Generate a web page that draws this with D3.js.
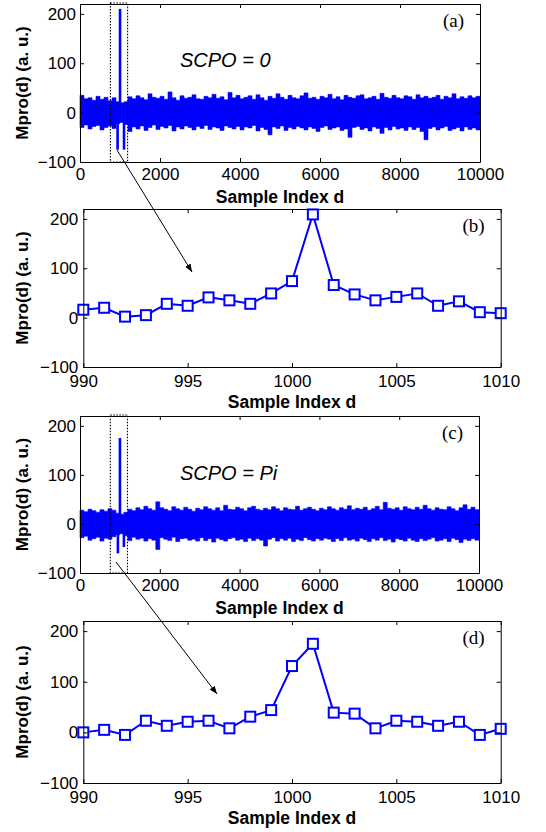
<!DOCTYPE html>
<html><head><meta charset="utf-8">
<script src="https://cdn.jsdelivr.net/npm/d3@7"></script>
<style>body{margin:0;background:#fff}svg{display:block}</style>
</head><body>
<script>
// ---------- data ----------
const yTickVals = [-100, 0, 100, 200];
const longTicks = [0, 2000, 4000, 6000, 8000, 10000];
const zoomTicks = [990, 995, 1000, 1005, 1010];
const zoomIndex = [990,991,992,993,994,995,996,997,998,999,1000,1001,1002,1003,1004,1005,1006,1007,1008,1009,1010];
const mproB = [16,20,2,5,28,24,41,35,28,49,74,209,66,47,35,42,49,24,33,11,9];
const mproD = [0,5,-5,23,13,21,23,8,31,44,131,175,39,37,8,23,21,13,21,-5,7];

// per-100-sample envelope of the full traces (max / min)
const noiseMaxA = [35,28,30,25,33,27,31,24,30,22, 20,22,32,28,34,30,26,38,31,29,
                   33,27,42,30,25,34,29,31,36,28, 27,33,30,37,29,32,26,41,30,35,
                   28,31,34,27,36,30,25,33,29,38, 31,27,35,30,28,34,40,29,31,27,
                   33,30,37,28,32,26,35,31,29,34, 36,28,30,33,27,39,31,29,35,30,
                   28,34,32,27,36,30,33,29,31,35, 27,33,30,38,28,32,29,34,30,33];
const noiseMinA = [-30,-25,-33,-28,-26,-35,-30,-27,-32,-22, -20,-24,-38,-29,-33,-27,-36,-30,-25,-34,
                   -28,-31,-26,-37,-29,-33,-27,-30,-35,-28, -32,-26,-34,-29,-31,-36,-27,-30,-33,-28,
                   -35,-29,-31,-26,-37,-30,-34,-45,-29,-32, -27,-36,-30,-33,-28,-31,-35,-29,-32,-38,
                   -30,-27,-34,-31,-29,-36,-33,-50,-30,-28, -34,-31,-37,-29,-32,-42,-30,-35,-28,-33,
                   -31,-36,-29,-34,-30,-38,-55,-32,-29,-35, -31,-28,-36,-33,-30,-37,-29,-34,-31,-35];
const spikeIdxA = [940, 1001, 1100];
const spikeValA = [-75, 210, -75];

const noiseMaxC = [28,25,30,27,24,29,26,31,28,22, 20,24,30,27,33,29,36,31,28,45,
                   33,30,27,35,31,28,34,30,26,32, 29,35,31,28,33,27,38,30,29,34,
                   31,27,33,36,30,28,32,29,35,31, 27,33,30,29,36,28,31,34,30,27,
                   32,29,35,31,28,33,30,37,29,32, 30,34,28,31,36,29,44,32,30,33,
                   28,35,31,29,34,30,38,31,28,33, 30,29,35,31,27,33,39,30,34,29];
const noiseMinC = [-28,-25,-33,-30,-27,-35,-29,-31,-26,-22, -20,-24,-34,-27,-31,-29,-35,-30,-33,-52,
                   -28,-31,-34,-27,-36,-30,-29,-33,-31,-35, -28,-34,-30,-37,-29,-32,-35,-30,-28,-33,
                   -31,-36,-29,-34,-30,-33,-45,-31,-28,-35, -30,-33,-29,-36,-31,-34,-28,-32,-35,-30,
                   -33,-29,-31,-36,-30,-34,-28,-33,-31,-35, -29,-32,-36,-30,-33,-28,-34,-31,-37,-30,
                   -32,-35,-29,-33,-36,-30,-34,-31,-28,-35, -33,-30,-36,-29,-32,-38,-31,-34,-30,-33];
const spikeIdxC = [950, 1001, 1100];
const spikeValC = [-60, 175, -47];

const zoomBox = [760, 1190];
const panelTags = ["(a)", "(b)", "(c)", "(d)"];
const scpoLabels = ["SCPO = 0", "SCPO = Pi"];
const binSize = 100;

// ---------- drawing ----------
const W = 546, H = 832, BLUE = "#0000ff";
const SANS = "'Liberation Sans', Arial, Helvetica, sans-serif";
const SERIF = "'Liberation Serif', 'Times New Roman', serif";
const svg = d3.select("body").append("svg").attr("width", W).attr("height", H);

const panels = [
  {l:80,  r:480,   t:4,   b:162, xd:[0,10000], xt:longTicks, pad:4, xpad:6},
  {l:83.3,r:500.7, t:209, b:367, xd:[990,1010], xt:zoomTicks, pad:5, xpad:8},
  {l:80,  r:479,   t:416, b:573, xd:[0,10000], xt:longTicks, pad:4, xpad:6},
  {l:83.3,r:500.7, t:621, b:783, xd:[990,1010], xt:zoomTicks, pad:5, xpad:8}
];

function drawAxes(p, x, y, i) {
  const g = svg.append("g").attr("font-family", SANS);
  const bottom = d3.axisBottom(x).tickValues(p.xt).tickSizeInner(-4).tickSizeOuter(0).tickPadding(p.xpad).tickFormat(d3.format("d"));
  const top = d3.axisTop(x).tickValues(p.xt).tickSizeInner(-4).tickSizeOuter(0).tickFormat("");
  const left = d3.axisLeft(y).tickValues(yTickVals).tickSizeInner(-4).tickSizeOuter(0).tickPadding(p.pad).tickFormat(d3.format("d"));
  const right = d3.axisRight(y).tickValues(yTickVals).tickSizeInner(-4).tickSizeOuter(0).tickFormat("");
  [[bottom, `translate(0,${p.b})`], [top, `translate(0,${p.t})`],
   [left, `translate(${p.l},0)`], [right, `translate(${p.r},0)`]].forEach(([ax, tr]) => {
    const a = g.append("g").attr("transform", tr).call(ax);
    a.selectAll("path").attr("stroke", "#000").attr("stroke-width", 1);
    a.selectAll("line").attr("stroke", "#000").attr("stroke-width", 1);
    a.selectAll("text").attr("font-size", 17).attr("fill", "#000").attr("font-family", SANS);
  });
  g.append("text").attr("x", (p.l + p.r) / 2).attr("y", p.b + 41)
    .attr("text-anchor", "middle").attr("font-size", 17.5).attr("font-weight", "bold")
    .text("Sample Index d");
  g.append("text").attr("transform", `translate(22,${(p.t + p.b) / 2}) rotate(-90)`)
    .attr("text-anchor", "middle").attr("dominant-baseline", "central")
    .attr("font-size", 17).attr("font-weight", "bold").text("Mpro(d) (a. u.)");
  svg.append("text").attr("x", p.r - 16).attr("y", p.t + 23).attr("text-anchor", "end")
    .attr("font-family", SERIF).attr("font-size", 19).text(panelTags[i]);
}

panels.forEach((p, i) => {
  const x = d3.scaleLinear().domain(p.xd).range([p.l, p.r]);
  const y = d3.scaleLinear().domain([-100, 220]).range([p.b, p.t]);
  if (i === 0 || i === 2) {
    const maxs = i === 0 ? noiseMaxA : noiseMaxC;
    const mins = i === 0 ? noiseMinA : noiseMinC;
    const sIdx = i === 0 ? spikeIdxA : spikeIdxC;
    const sVal = i === 0 ? spikeValA : spikeValC;
    const bins = maxs.map((v, k) => ({d: k * binSize, hi: v, lo: mins[k]}));
    bins.push({d: maxs.length * binSize, hi: maxs[maxs.length - 1], lo: mins[mins.length - 1]});
    const area = d3.area().curve(d3.curveStepAfter)
      .x(b => x(b.d)).y0(b => y(b.lo)).y1(b => y(b.hi));
    svg.append("path").datum(bins).attr("d", area).attr("fill", BLUE)
      .attr("stroke", BLUE).attr("stroke-width", 0.6);
    svg.append("g").selectAll("line").data(sIdx).join("line")
      .attr("x1", d => x(d)).attr("x2", d => x(d))
      .attr("y1", y(0)).attr("y2", (d, k) => y(sVal[k]))
      .attr("stroke", BLUE).attr("stroke-width", 2.6);
    // zoom box (dotted)
    svg.append("rect").attr("x", x(zoomBox[0])).attr("y", y(222))
      .attr("width", x(zoomBox[1]) - x(zoomBox[0])).attr("height", y(-100) - y(222))
      .attr("fill", "none").attr("stroke", "#000").attr("stroke-width", 1.1)
      .attr("stroke-dasharray", "1.5,1.5");
    svg.append("text").attr("x", 180).attr("y", p.t + (i === 0 ? 63 : 64))
      .attr("font-family", SANS).attr("font-style", "italic").attr("font-size", 20)
      .text(scpoLabels[i / 2]);
  } else {
    const vals = i === 1 ? mproB : mproD;
    const pts = zoomIndex.map((d, k) => [d, vals[k]]);
    const line = d3.line().x(d => x(d[0])).y(d => y(d[1]));
    svg.append("path").datum(pts).attr("d", line).attr("fill", "none")
      .attr("stroke", BLUE).attr("stroke-width", 2);
    svg.append("g").selectAll("rect").data(pts).join("rect")
      .attr("x", d => x(d[0]) - 5).attr("y", d => y(d[1]) - 5)
      .attr("width", 10).attr("height", 10)
      .attr("fill", "#fff").attr("stroke", BLUE).attr("stroke-width", 2);
  }
  drawAxes(p, x, y, i);
});

// arrows
const defs = svg.append("defs");
defs.append("marker").attr("id", "ah").attr("viewBox", "0 0 10 10").attr("refX", 10).attr("refY", 5)
  .attr("markerWidth", 8).attr("markerHeight", 8).attr("markerUnits", "userSpaceOnUse").attr("orient", "auto")
  .append("path").attr("d", "M0,1 L10,5 L0,9 Z").attr("fill", "#000");
[[117, 150, 192, 272], [116, 562, 217, 694]].forEach(a => {
  svg.append("line").attr("x1", a[0]).attr("y1", a[1]).attr("x2", a[2]).attr("y2", a[3])
    .attr("stroke", "#000").attr("stroke-width", 1).attr("marker-end", "url(#ah)");
});
</script>
</body></html>
